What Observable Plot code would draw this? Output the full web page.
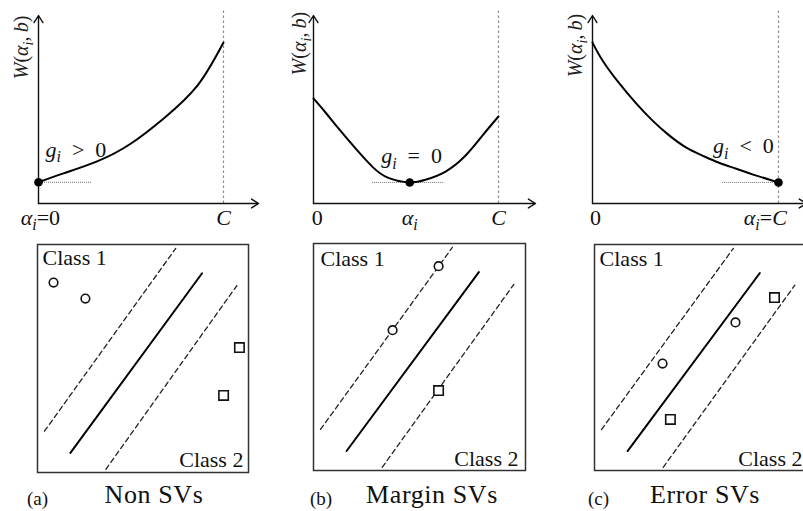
<!DOCTYPE html>
<html><head><meta charset="utf-8">
<script src="https://cdn.jsdelivr.net/npm/d3@7"></script>
<script src="https://cdn.jsdelivr.net/npm/@observablehq/plot@0.6"></script>
<style>
html,body{margin:0;padding:0;background:#fff;}
#fig{position:relative;width:803px;height:511px;overflow:hidden;font-family:"Liberation Serif","DejaVu Serif","Times New Roman",serif;color:#111;}
.cap{position:absolute;white-space:nowrap;line-height:1;}
</style></head><body><div id="fig"></div>
<script>
// ---------- data ----------
const C = 1;
// W(alpha_i, b) curves (alpha in units of C, W in arbitrary units)
const alphaA = [0, 0.135, 0.32, 0.5, 0.68, 0.86, 1];
const wA     = [1.13, 1.6, 2.25, 3.19, 4.55, 6.28, 8.56];
const alphaB = [0, 0.065, 0.135, 0.227, 0.319, 0.405, 0.519, 0.605, 0.714, 0.822, 0.914, 1];
const wB     = [5.59, 4.84, 3.99, 2.93, 1.95, 1.36, 1.12, 1.26, 1.7, 2.55, 3.62, 4.63];
const alphaC = [0, 0.054, 0.14, 0.231, 0.323, 0.409, 0.5, 0.591, 0.677, 0.769, 0.86, 1];
const wC     = [8.56, 7.61, 6.44, 5.37, 4.41, 3.65, 3.0, 2.55, 2.18, 1.86, 1.55, 1.12];
// optimum points and dotted guides
const optA = {alpha: 0, w: 1.13}, optB = {alpha: 0.52, w: 1.12}, optC = {alpha: 1, w: 1.12};
const guideA = [0, 0.29], guideB = [0.32, 0.71], guideC = [0.70, 1];
const gLabels = ["g_i\u2002>\u20020", "g_i\u2002=\u20020", "g_i\u2002<\u20020"];
const yLabel = "W(α_i,\u2009b)";
const ticksA = [{alpha: 0.01, label: "α_i=0", anchor: "middle"}, {alpha: 1, label: "C", anchor: "middle"}];
const ticksB = [{alpha: 0.02, label: "0", anchor: "middle"}, {alpha: 0.52, label: "α_i", anchor: "middle"}, {alpha: 1, label: "C", anchor: "middle"}];
const ticksC = [{alpha: 0.016, label: "0", anchor: "middle"}, {alpha: 1.045, label: "α_i=C", anchor: "end"}];
// bottom panels (0-10 box coordinates)
const hyperplane  = [[1.56, 0.86], [7.8, 8.74]];
const marginUpper = [[0.33, 1.81], [6.55, 9.83]];
const marginLower = [[3.24, 0.14], [9.45, 8.2]];
const class1A = [[0.76, 8.33], [2.27, 7.63]];
const class2A = [[9.57, 5.48], [8.82, 3.38]];
const class1B = [[5.9, 9.0], [3.73, 6.18]];
const class2B = [[5.9, 3.52]];
const class1C = [[3.21, 4.73], [6.65, 6.55]];
const class2C = [[3.58, 2.26], [8.49, 7.65]];
const classNames = ["Class 1", "Class 2"];
const captions = [["(a)", "Non SVs"], ["(b)", "Margin SVs"], ["(c)", "Error SVs"]];

// ---------- helpers ----------
const FONT = "'Liberation Serif', 'DejaVu Serif', 'Times New Roman', serif";
const fig = document.getElementById("fig");
function place(el, left, top) {
  el.style.position = "absolute"; el.style.left = left + "px"; el.style.top = top + "px";
  fig.append(el);
}
function mathify(svg) {
  d3.select(svg).selectAll("text").each(function() {
    const s = this.textContent;
    const holder = this.closest("[font-size]");
    const fs = holder ? parseFloat(holder.getAttribute("font-size")) : 20;
    const el = d3.select(this); el.text(null);
    const re = /_(.)|([A-Za-z\u03b1-\u03c9])|([^_A-Za-z\u03b1-\u03c9]+)/g;
    let m, shifted = false; const sh = fs * 0.24;
    while ((m = re.exec(s))) {
      const t = el.append("tspan");
      if (m[1]) { t.text(m[1]).attr("font-style", "italic").attr("font-size", fs * 0.72).attr("dy", sh); shifted = true; }
      else {
        if (shifted) { t.attr("dy", -sh); shifted = false; }
        t.text(m[2] || m[3]);
        if (m[2]) t.attr("font-style", "italic");
      }
    }
  });
}

function topPanel({alpha, w, opt, guide, gLabel, ticks, x0, xC, width, arrowEnd, yl}) {
  const curve = alpha.map((a, i) => ({alpha: a, w: w[i]}));
  const svg = Plot.plot({
    width, height: 235, margin: 0,
    style: {background: "transparent", overflow: "visible", fontFamily: FONT},
    x: {domain: [0, C], range: [x0, xC], axis: null},
    y: {domain: [0, 10], range: [203, 15], axis: null},
    marks: [
      Plot.ruleX([C], {y1: 0, y2: 10.27, stroke: "#8c8c8c", strokeWidth: 1.2, strokeDasharray: "2.5,2.5"}),
      Plot.ruleY([opt.w], {x1: guide[0], x2: guide[1], stroke: "#6f6f6f", strokeWidth: 1, strokeDasharray: "1,1"}),
      Plot.arrow([{x1: 0, y1: 0, x2: arrowEnd, y2: 0}, {x1: 0, y1: 0, x2: 0, y2: 10}],
        {x1: "x1", y1: "y1", x2: "x2", y2: "y2", stroke: "#111", strokeWidth: 1.4, headLength: 9, headAngle: 64}),
      Plot.line(curve, {x: "alpha", y: "w", curve: "natural", stroke: "#000", strokeWidth: 2}),
      Plot.dot([opt], {x: "alpha", y: "w", r: 4.3, fill: "#000", stroke: "none"}),
      Plot.text([gLabel], {x: "alpha", y: "w", text: "text", textAnchor: gLabel.anchor, lineAnchor: "bottom", fontSize: 22, fill: "#111"}),
      ...ticks.map(t => Plot.text([t], {x: "alpha", y: () => -1.12, text: "label", textAnchor: t.anchor, lineAnchor: "bottom", fontSize: 22, fill: "#111"})),
      Plot.text([yl], {x: "alpha", y: "w", text: () => yLabel, rotate: -90, textAnchor: "middle", lineAnchor: "middle", fontSize: 20, fill: "#222"})
    ]
  });
  mathify(svg);
  return svg;
}

function bottomPanel({cls1, cls2, width, ml, mr, mt, mb, c1, c2}) {
  return Plot.plot({
    width, height: 240, marginLeft: ml, marginRight: mr, marginTop: mt, marginBottom: mb,
    style: {background: "transparent", overflow: "visible", fontFamily: FONT},
    x: {domain: [0, 10], axis: null},
    y: {domain: [0, 10], axis: null},
    marks: [
      Plot.frame({stroke: "#333", strokeWidth: 1.5}),
      Plot.line(marginUpper, {stroke: "#222", strokeWidth: 1.3, strokeDasharray: "5,3.5"}),
      Plot.line(marginLower, {stroke: "#222", strokeWidth: 1.3, strokeDasharray: "5,3.5"}),
      Plot.line(hyperplane, {stroke: "#000", strokeWidth: 2}),
      Plot.dot(cls1, {r: 4.3, symbol: "circle", stroke: "#111", strokeWidth: 1.6, fill: "white"}),
      Plot.dot(cls2, {r: 5.3, symbol: "square", stroke: "#111", strokeWidth: 1.6, fill: "white"}),
      Plot.text([classNames[0]], {x: () => c1[0], y: () => c1[1], text: d => d, textAnchor: "start", lineAnchor: "bottom", fontSize: 22, fill: "#111"}),
      Plot.text([classNames[1]], {x: () => c2[0], y: () => c2[1], text: d => d, textAnchor: "end", lineAnchor: "bottom", fontSize: 22, fill: "#111"})
    ]
  });
}

// ---------- top row ----------
place(topPanel({alpha: alphaA, w: wA, opt: optA, guide: guideA,
  gLabel: {alpha: 0.038, w: 2.5, text: gLabels[0], anchor: "start"}, ticks: ticksA,
  x0: 38, xC: 223, width: 268, arrowEnd: 1.19, yl: {alpha: -0.09, w: 8.3}}), 0, 0);
place(topPanel({alpha: alphaB, w: wB, opt: optB, guide: guideB,
  gLabel: {alpha: 0.53, w: 2.13, text: gLabels[1], anchor: "middle"}, ticks: ticksB,
  x0: 43, xC: 228, width: 268, arrowEnd: 1.2, yl: {alpha: -0.075, w: 8.5}}), 270, 0);
place(topPanel({alpha: alphaC, w: wC, opt: optC, guide: guideC,
  gLabel: {alpha: 0.975, w: 2.66, text: gLabels[2], anchor: "end"}, ticks: ticksC,
  x0: 52, xC: 238, width: 270, arrowEnd: 1.15, yl: {alpha: -0.09, w: 8.4}}), 540, 0);

// ---------- bottom row ----------
place(bottomPanel({cls1: class1A, cls2: class2A, width: 268, ml: 37, mr: 20, mt: 4, mb: 8, c1: [0.24, 9.08], c2: [9.76, 0.22]}), 0, 240);
place(bottomPanel({cls1: class1B, cls2: class2B, width: 268, ml: 43, mr: 13, mt: 3, mb: 10, c1: [0.33, 9.03], c2: [9.67, 0.22]}), 270, 240);
place(bottomPanel({cls1: class1C, cls2: class2C, width: 270, ml: 54, mr: 4, mt: 4, mb: 10, c1: [0.24, 9.07], c2: [9.81, 0.22]}), 540, 240);

// ---------- captions ----------
const capLeft = [27, 310, 588], capCenter = [154, 432, 705];
captions.forEach(([tag, name], i) => {
  const a = document.createElement("div"); a.className = "cap"; a.textContent = tag;
  a.style.fontSize = "19px"; a.style.left = capLeft[i] + "px"; a.style.top = "489px"; fig.append(a);
  const b = document.createElement("div"); b.className = "cap"; b.textContent = name;
  b.style.fontSize = "26px"; b.style.left = capCenter[i] + "px"; b.style.top = "482px";
  b.style.transform = "translateX(-50%)"; b.style.letterSpacing = "0.6px"; fig.append(b);
});
</script></body></html>
